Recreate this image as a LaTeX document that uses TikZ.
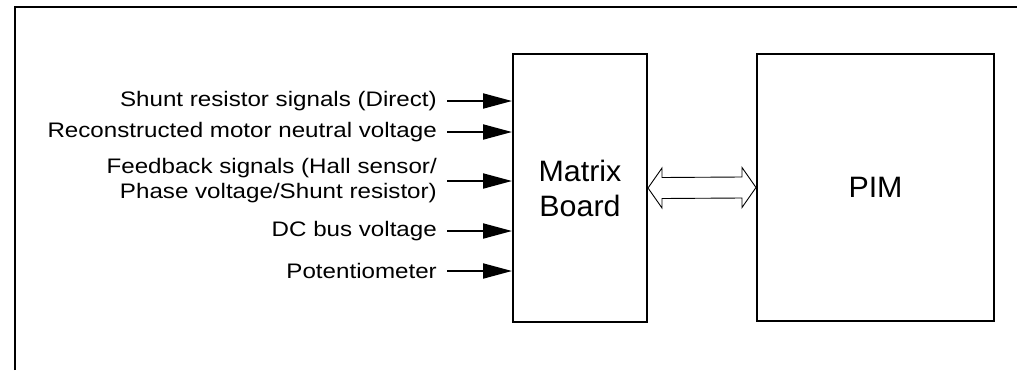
\documentclass[tikz,border=0pt]{standalone}
\usepackage{fontspec}
\setmainfont{Liberation Sans}[FakeStretch=1.15]
\newfontfamily\blockfont{Liberation Sans}[FakeStretch=1.03]
\usetikzlibrary{arrows.meta}
\begin{document}
\begin{tikzpicture}[x=1pt,y=-1pt,
  frameline/.style={line width=2pt},
  blockbox/.style={draw,line width=2pt,inner sep=0pt,align=center,font=\blockfont\fontsize{29.5}{35}\selectfont},
  sig/.style={anchor=east,align=right,inner sep=0pt,font=\fontsize{21}{25}\selectfont},
  inarrow/.style={line width=2pt,-{Triangle[length=29pt,width=15pt]}},
  dblarrow/.style={draw,line width=0.9pt,fill=white,line join=miter}]
\useasboundingbox (0,0) rectangle (1017,370);
\coordinate (fbl) at (15,370);
\coordinate (ftl) at (15,7);
\coordinate (ftr) at (1017,7);
\draw[frameline] (fbl) -- (ftl) -- (ftr);

\node[blockbox,minimum width=134pt,minimum height=268pt] (mb) at (580,188) {Matrix\\Board};
\node[blockbox,minimum width=237pt,minimum height=267pt] (pim) at (875.5,187.5) {PIM};

\node[sig] (l1) at (437,101) {Shunt resistor signals (Direct)};
\node[sig] (l2) at (437,132) {Reconstructed motor neutral voltage};
\node[sig] (l3) at (437,181) {Feedback signals (Hall sensor/\\Phase voltage/Shunt resistor)};
\node[sig] (l4) at (437,231) {DC bus voltage};
\node[sig] (l5) at (437,271) {Potentiometer};

\foreach \n in {l1,l2,l3,l4,l5}
  \draw[inarrow] ([xshift=10pt]\n.east) -- (\n.east -| mb.west);

\draw[dblarrow] (mb.east) -- ([xshift=14pt,yshift=20pt]mb.east) -- ([xshift=14pt,yshift=10.5pt]mb.east)
  -- ([xshift=-14pt,yshift=10.5pt]pim.west) -- ([xshift=-14pt,yshift=20pt]pim.west) -- (pim.west)
  -- ([xshift=-14pt,yshift=-20pt]pim.west) -- ([xshift=-14pt,yshift=-10.5pt]pim.west)
  -- ([xshift=14pt,yshift=-10.5pt]mb.east) -- ([xshift=14pt,yshift=-20pt]mb.east) -- cycle;
\end{tikzpicture}
\end{document}
